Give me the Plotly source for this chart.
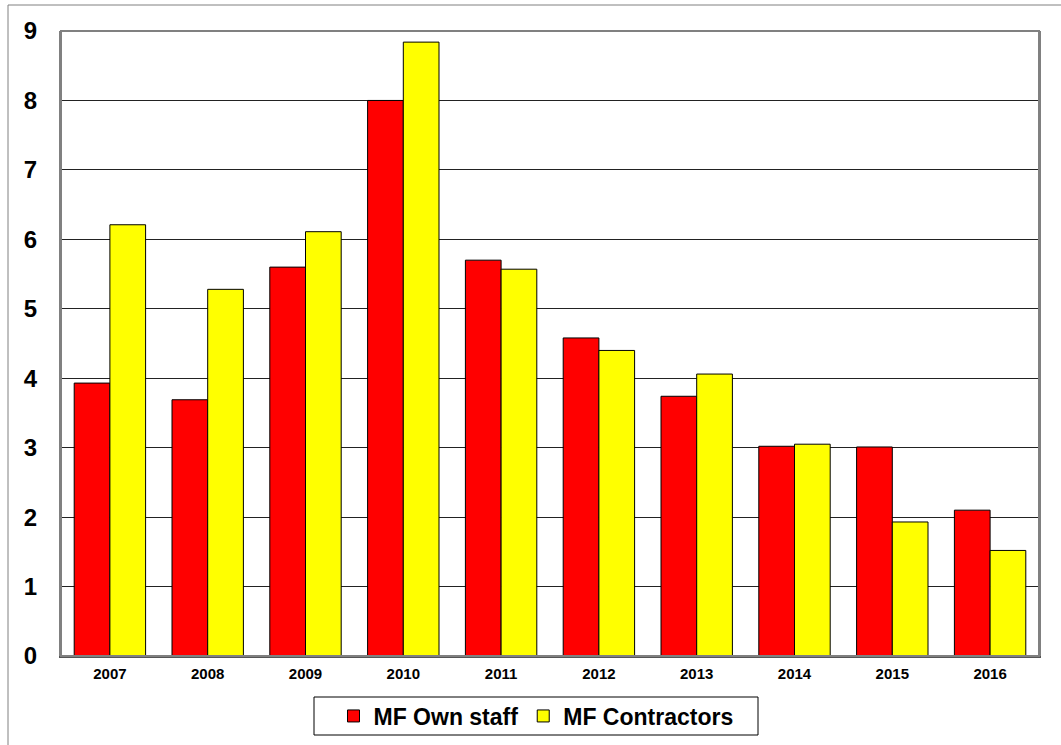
import plotly.graph_objects as go

years = ["2007", "2008", "2009", "2010", "2011", "2012", "2013", "2014", "2015", "2016"]
own_staff = [3.93, 3.69, 5.60, 8.00, 5.70, 4.58, 3.74, 3.02, 3.01, 2.10]
contractors = [6.21, 5.28, 6.11, 8.84, 5.57, 4.40, 4.06, 3.05, 1.93, 1.52]
y_ticks = [0, 1, 2, 3, 4, 5, 6, 7, 8, 9]

W, H = 1061, 745
L, R, T, B = 61, 1039, 31, 656
FONT = "Arial, Liberation Sans, sans-serif"

fig = go.Figure()
fig.add_trace(go.Bar(x=years, y=own_staff, name="MF Own staff",
                     marker=dict(color="#FF0000", line=dict(color="#000000", width=1))))
fig.add_trace(go.Bar(x=years, y=contractors, name="MF Contractors",
                     marker=dict(color="#FFFF00", line=dict(color="#000000", width=1))))

def px_x(p):
    return (p - L) / (R - L)

def px_y(p):
    return (B - p) / (B - T)

fig.update_layout(
    width=W, height=H,
    margin=dict(l=L, r=W - R, t=T, b=H - B, pad=0, autoexpand=False),
    paper_bgcolor="white", plot_bgcolor="white",
    barmode="group", bargap=0.27, bargroupgap=0,
    font=dict(family=FONT, color="black"),
    showlegend=True,
    legend=dict(orientation="h", x=px_x(536), xanchor="center", y=px_y(716), yanchor="middle",
                borderwidth=0, bgcolor="rgba(0,0,0,0)",
                font=dict(size=23, family=FONT, weight="bold"),
                itemwidth=30, tracegroupgap=0),
    xaxis=dict(showline=True, linecolor="#555555", linewidth=2, mirror=False,
               showgrid=False, ticks="", tickfont=dict(size=15, family=FONT, weight="bold"),
               ticklabelstandoff=3),
    yaxis=dict(range=[0, 9], tickvals=y_ticks, showgrid=True, gridcolor="#222222", gridwidth=1,
               showline=True, linecolor="#808080", linewidth=2, mirror=True,
               ticks="", tickfont=dict(size=24, family=FONT, weight="bold"),
               ticklabelstandoff=17, zeroline=False),
    shapes=[
        dict(type="rect", xref="paper", yref="paper", x0=0, x1=1, y0=0, y1=1,
             line=dict(color="#808080", width=2), layer="above"),
        dict(type="line", xref="paper", yref="paper", x0=px_x(8), x1=px_x(1070), y0=px_y(5), y1=px_y(5),
             line=dict(color="#808080", width=1)),
        dict(type="line", xref="paper", yref="paper", x0=px_x(8), x1=px_x(8), y0=px_y(5), y1=px_y(760),
             line=dict(color="#808080", width=1)),
        dict(type="rect", xref="paper", yref="paper", x0=px_x(314), x1=px_x(758),
             y0=px_y(735), y1=px_y(697), line=dict(color="black", width=1)),
    ],
)

fig.write_html("out.html")
